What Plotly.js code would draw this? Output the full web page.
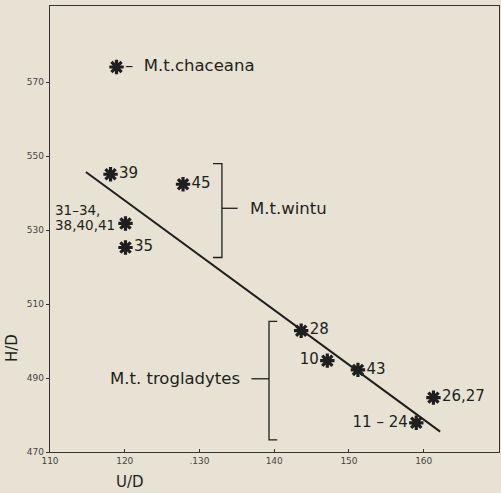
<!DOCTYPE html>
<html>
<head>
<meta charset="utf-8">
<script src="https://cdn.plot.ly/plotly-3.0.1.min.js"></script>
<style>html,body{margin:0;padding:0;background:#e7e2d3;}#chart{width:501px;height:493px;}</style>
</head>
<body>
<div id="chart"></div>
<script>
// Data points (U/D, H/D) and labels
const pointX = [118.9, 118.1, 127.8, 120.1, 120.1, 143.6, 147.1, 151.2, 161.3, 159.0];
const pointY = [574.1, 545.1, 542.4, 531.8, 525.3, 502.8, 494.7, 492.2, 484.7, 477.9];
const pointLabels = ['\u2013\u00a0\u00a0M.t.chaceana', '39', '45', '', '35', '28', '10', '43', '26,27', '11 – 24'];
const labelSides = ['middle right', 'middle right', 'middle right', 'middle left', 'middle right', 'middle right', 'middle left', 'middle right', 'middle right', 'middle left'];
// two-line label for the point at index 3 (left-aligned block)
const groupedLabelLines = ['31–34,', '38,40,41'];
const groupedLabelX = [110.37, 110.37];
const groupedLabelY = [535.45, 531.38];

// Regression line end points
const lineX = [114.8, 162.2];
const lineY = [545.7, 475.5];

// Brackets
const wintuBracketX = [131.8, 133.0, 133.0, 131.8];
const wintuBracketY = [548.0, 548.0, 522.6, 522.6];
const wintuTickX = [133.0, 135.1];
const wintuTickY = [535.9, 535.9];
const trogBracketX = [140.4, 139.3, 139.3, 140.4];
const trogBracketY = [505.3, 505.3, 473.3, 473.3];
const trogTickX = [136.95, 139.3];
const trogTickY = [489.8, 489.8];

const groupNames = ['M.t.wintu', 'M.t. trogladytes'];
const groupLabelX = [136.45, 135.65];
const groupLabelY = [535.9, 489.8];

// Axis ticks
const xTickVals = [110, 120, 130, 140, 150, 160];
const xTickText = ['110', '120', '.130', '140', '150', '160'];
const yTickVals = [470, 490, 510, 530, 550, 570];
const yTickText = ['470', '490', '510', '530', '550', '570'];

const FONT = '"DejaVu Sans", sans-serif';
const INK = '#1e1e1e';
const BG = '#e7e2d3';

const labelFont = {family: FONT, size: 16.5, color: INK};
const numFont = {family: FONT, size: 15, color: INK};
const smallNumFont = {family: FONT, size: 13.5, color: INK};

const bracketLine = {color: INK, width: 1.3};
const traces = [
  {x: lineX, y: lineY, mode: 'lines', line: {color: INK, width: 2}, hoverinfo: 'skip'},
  {x: wintuBracketX, y: wintuBracketY, mode: 'lines', line: bracketLine, hoverinfo: 'skip'},
  {x: wintuTickX, y: wintuTickY, mode: 'lines', line: bracketLine, hoverinfo: 'skip'},
  {x: trogBracketX, y: trogBracketY, mode: 'lines', line: bracketLine, hoverinfo: 'skip'},
  {x: trogTickX, y: trogTickY, mode: 'lines', line: bracketLine, hoverinfo: 'skip'},
  {
    x: pointX, y: pointY, mode: 'markers+text',
    text: pointLabels, textposition: labelSides,
    textfont: {family: FONT, color: INK, size: pointLabels.map((t, i) => i === 0 ? 16.5 : 15)},
    marker: {symbol: 'asterisk-open', size: 12, color: INK, line: {color: INK, width: 3.2}},
    cliponaxis: false
  }
];

const plotW = 501 - 50 - 2, plotH = 493 - 6 - 41;

const layout = {
  width: 501, height: 493,
  margin: {l: 50, r: 2, t: 6, b: 41},
  paper_bgcolor: BG,
  plot_bgcolor: BG,
  showlegend: false,
  font: {family: FONT, color: INK},
  xaxis: {
    range: [110, 170.07], tickvals: xTickVals, ticktext: xTickText,
    showgrid: false, zeroline: false, showline: true, mirror: true,
    linecolor: '#333', linewidth: 1.3,
    ticks: 'inside', ticklen: 3, tickcolor: '#333',
    tickfont: {family: FONT, size: 9, color: '#444'}
  },
  yaxis: {
    range: [470, 590.6], tickvals: yTickVals, ticktext: yTickText,
    showgrid: false, zeroline: false, showline: true, mirror: true,
    linecolor: '#333', linewidth: 1.3,
    ticks: 'outside', ticklen: 3, tickcolor: '#333',
    tickfont: {family: FONT, size: 9, color: '#444'}
  },
  annotations: [
    {x: groupLabelX[0], y: groupLabelY[0], xref: 'x', yref: 'y', text: groupNames[0], showarrow: false,
     xanchor: 'left', yanchor: 'middle', font: labelFont},
    {x: groupLabelX[1], y: groupLabelY[1], xref: 'x', yref: 'y', text: groupNames[1], showarrow: false,
     xanchor: 'right', yanchor: 'middle', font: labelFont},
    {x: groupedLabelX[0], y: groupedLabelY[0], xref: 'x', yref: 'y', text: groupedLabelLines[0],
     showarrow: false, xanchor: 'left', yanchor: 'middle', font: smallNumFont},
    {x: groupedLabelX[1], y: groupedLabelY[1], xref: 'x', yref: 'y', text: groupedLabelLines[1],
     showarrow: false, xanchor: 'left', yanchor: 'middle', font: smallNumFont},
    {xref: 'paper', yref: 'paper', x: (130 - 50) / plotW, y: (452 - 482) / plotH,
     text: 'U/D', showarrow: false, xanchor: 'center', yanchor: 'middle', font: {family: FONT, size: 15, color: INK}},
    {xref: 'paper', yref: 'paper', x: (12 - 50) / plotW, y: (452 - 348) / plotH,
     text: 'H/D', showarrow: false, textangle: -90, xanchor: 'center', yanchor: 'middle', font: {family: FONT, size: 15, color: INK}}
  ]
};

Plotly.newPlot('chart', traces, layout, {displayModeBar: false, staticPlot: true});
</script>
</body>
</html>
